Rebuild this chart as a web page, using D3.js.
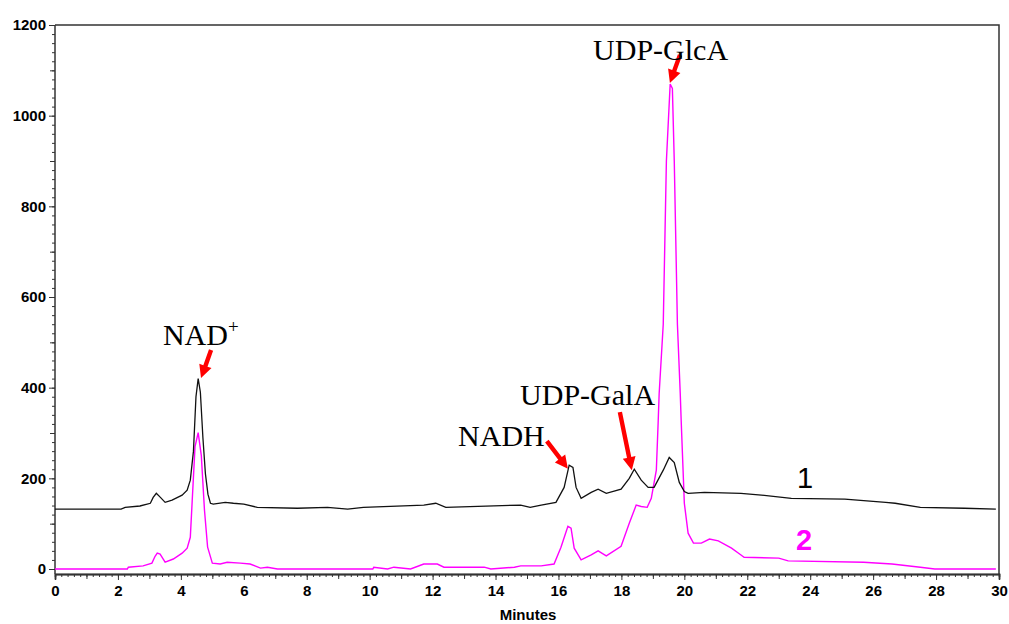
<!DOCTYPE html>
<html>
<head>
<meta charset="utf-8">
<script src="https://cdn.jsdelivr.net/npm/d3@7"></script>
<style>
  body { margin: 0; background: #fff; }
  .tick text { font-family: "Liberation Sans", Arial, sans-serif; font-weight: bold; font-size: 15px; fill: #000; }
  .tick line { stroke: #333; }
</style>
</head>
<body>
<div id="chart"></div>
<script>
// trace 1 (black) - retention time (min) and detector signal
var times1 = [0, 2.1, 2.23, 2.7, 3.03, 3.12, 3.22, 3.35, 3.5, 3.72, 4.04, 4.2, 4.3, 4.4, 4.48, 4.55, 4.62, 4.7, 4.78, 4.86, 4.94,
  5.03, 5.41, 5.67, 6.0, 6.43, 7.7, 8.66, 9.3, 9.8, 11.72, 12.1, 12.42, 14.8, 15.1, 15.45, 15.92, 16.18, 16.34, 16.46, 16.56,
  16.72, 17.04, 17.26, 17.52, 17.99, 18.25, 18.41, 18.63, 18.85, 19.04, 19.33, 19.52, 19.68, 19.84, 20.0, 20.12, 20.64, 21.8,
  22.45, 23.4, 25.1, 26.4, 26.7, 27.5, 28.9, 29.9]
var signal1 = [132, 132, 136, 139, 145, 158, 167, 158, 147, 152, 163, 174, 196, 260, 380, 420, 390, 290, 210, 165, 145,
  143, 147, 145, 143, 136, 134, 136, 132, 136, 141, 145, 136, 141, 136, 141, 147, 180, 229, 224, 180,
  156, 169, 176, 167, 176, 200, 220, 196, 180, 180, 218, 246, 235, 191, 171, 167, 169, 167,
  163, 156, 154, 147, 145, 136, 134, 132]

// trace 2 (magenta)
var times2 = [0, 2.3, 2.33, 2.8, 3.08, 3.18, 3.25, 3.34, 3.5, 3.76, 4.04, 4.2, 4.3, 4.36, 4.45, 4.55, 4.65, 4.75, 4.85, 5.0,
  5.25, 5.47, 5.89, 6.2, 6.53, 6.75, 7.07, 10.1, 10.13, 10.57, 10.77, 11.3, 11.72, 12.15, 12.36, 13.64, 13.85, 14.6, 14.8,
  15.45, 15.86, 16.08, 16.3, 16.4, 16.5, 16.72, 17.04, 17.26, 17.52, 17.99, 18.25, 18.47, 18.63, 18.82, 18.95, 19.11, 19.17,
  19.2, 19.33, 19.43, 19.55, 19.62, 19.68, 19.78, 19.87, 19.9, 20.0, 20.12, 20.29, 20.54, 20.8, 21.08, 21.5, 21.8, 21.9,
  23.0, 23.3, 25.7, 26.6, 27.5, 27.96, 29.9]
var signal2 = [0, 0, 4, 7, 13, 28, 35, 33, 15, 22, 35, 46, 70, 150, 270, 301, 250, 130, 48, 13,
  11, 15, 13, 11, 2, 4, 0, 0, 4, 0, 4, 0, 11, 11, 4, 4, 0, 4, 7,
  7, 11, 48, 94, 90, 46, 20, 31, 40, 29, 50, 101, 141, 138, 136, 156, 218, 327,
  387, 540, 900, 1070, 1060, 900, 540, 387, 327, 145, 79, 57, 57, 66, 62, 46, 31, 26,
  24, 18, 15, 11, 4, 0, 0]

// peak labels: text, label position (t, v), arrow tail and tip (t, v)
var peakNames = ["NAD", "NADH", "UDP-GalA", "UDP-GlcA"]
var labelPos = [[3.43, 494], [12.81, 271], [14.78, 362], [17.1, 1123]]
var arrowTail = [[4.96, 483], [15.63, 282], [17.95, 346], [19.86, 1134]]
var arrowTip = [[4.64, 421], [16.3, 221], [18.33, 218], [19.54, 1072]]

var traceNames = ["1", "2"]
var traceLabelPos = [[23.58, 179], [23.55, 42]]

var xMajor = d3.range(0, 31, 2)
var yMajor = d3.range(0, 1201, 200)

var width = 1009
var height = 624

var svg = d3.select("#chart")
  .append("svg")
  .attr("width", width)
  .attr("height", height)

var x = d3.scaleLinear().domain([0, 30]).range([55, 999])
var y = d3.scaleLinear().domain([0, 1200]).range([569, 25])
var yBottom = y(-11)

// frame (top + right)
svg.append("path")
  .attr("d", "M" + x(0) + "," + y(1200) + "H" + x(30) + "V" + yBottom)
  .attr("fill", "none")
  .attr("stroke", "#333")
  .attr("stroke-width", 1.5)

// x axis: minor every 0.2, medium every 1, labelled every 2
var gx = svg.append("g").attr("transform", "translate(0," + yBottom + ")")
gx.append("g").call(d3.axisBottom(x).tickValues(d3.range(0, 30.01, 0.2)).tickSize(3).tickFormat(""))
gx.append("g").call(d3.axisBottom(x).tickValues(d3.range(1, 30, 2)).tickSize(5).tickFormat(""))
gx.append("g").call(d3.axisBottom(x).tickValues(xMajor).tickSize(6).tickPadding(5).tickFormat(d3.format("d")))
gx.selectAll(".domain").attr("stroke", "#333").attr("stroke-width", 1.5)

// y axis: minor every 20, medium every 100, labelled every 200
var yMinorVals = d3.range(-0, 1200.01, 20)
var gy = svg.append("g").attr("transform", "translate(" + x(0) + ",0)")
gy.append("g").call(d3.axisLeft(y).tickValues(yMinorVals).tickSize(3).tickFormat(""))
gy.append("g").call(d3.axisLeft(y).tickValues(d3.range(100, 1200, 200)).tickSize(5).tickFormat(""))
gy.append("g").call(d3.axisLeft(y).tickValues(yMajor).tickSize(6).tickPadding(3).tickFormat(d3.format("d")))
gy.selectAll(".domain").remove()
gy.append("line")
  .attr("y1", y(1200)).attr("y2", yBottom)
  .attr("stroke", "#333").attr("stroke-width", 1.5)

svg.append("text")
  .attr("x", 528)
  .attr("y", 620)
  .attr("text-anchor", "middle")
  .style("font-family", "Liberation Sans, Arial, sans-serif")
  .style("font-weight", "bold")
  .style("font-size", "15px")
  .text("Minutes")

var line = d3.line()
  .x(d => x(d[0]))
  .y(d => y(d[1]))

svg.append("path")
  .datum(d3.zip(times2, signal2))
  .attr("d", line)
  .attr("fill", "none")
  .attr("stroke", "#ff00ff")
  .attr("stroke-width", 1.4)

svg.append("path")
  .datum(d3.zip(times1, signal1))
  .attr("d", line)
  .attr("fill", "none")
  .attr("stroke", "#111")
  .attr("stroke-width", 1.3)

// trace numbers
svg.selectAll(".trace-label")
  .data(traceNames)
  .enter().append("text")
  .attr("class", "trace-label")
  .attr("x", (d, i) => x(traceLabelPos[i][0]))
  .attr("y", (d, i) => y(traceLabelPos[i][1]))
  .style("font-family", "Liberation Sans, Arial, sans-serif")
  .style("font-size", "29px")
  .style("font-weight", (d, i) => i == 1 ? "bold" : "normal")
  .attr("fill", (d, i) => i == 1 ? "#ff00ff" : "#000")
  .text(d => d)

// red arrows
function arrowPath(t0, t1) {
  var x0 = x(t0[0]), y0 = y(t0[1]), x1 = x(t1[0]), y1 = y(t1[1])
  var dx = x1 - x0, dy = y1 - y0
  var len = Math.sqrt(dx * dx + dy * dy)
  var ux = dx / len, uy = dy / len
  var px = -uy, py = ux
  var head = 13, hw = 6.5, sw = 2.2
  var bx = x1 - ux * head, by = y1 - uy * head
  var pts = [
    [x0 + px * sw, y0 + py * sw],
    [bx + px * sw, by + py * sw],
    [bx + px * hw, by + py * hw],
    [x1, y1],
    [bx - px * hw, by - py * hw],
    [bx - px * sw, by - py * sw],
    [x0 - px * sw, y0 - py * sw]
  ]
  return "M" + pts.map(p => p[0].toFixed(1) + "," + p[1].toFixed(1)).join("L") + "Z"
}

svg.selectAll(".arrow")
  .data(arrowTail)
  .enter().append("path")
  .attr("class", "arrow")
  .attr("d", (d, i) => arrowPath(d, arrowTip[i]))
  .attr("fill", "#ff0000")

// peak names
var labels = svg.selectAll(".peak-label")
  .data(peakNames)
  .enter().append("text")
  .attr("class", "peak-label")
  .attr("x", (d, i) => x(labelPos[i][0]))
  .attr("y", (d, i) => y(labelPos[i][1]))
  .style("font-family", "Liberation Serif, Times New Roman, serif")
  .style("font-size", "30px")
  .attr("fill", "#000")
  .text(d => d)

labels.filter((d, i) => i == 0)
  .append("tspan")
  .attr("dy", -12)
  .style("font-size", "19px")
  .text("+")
</script>
</body>
</html>
